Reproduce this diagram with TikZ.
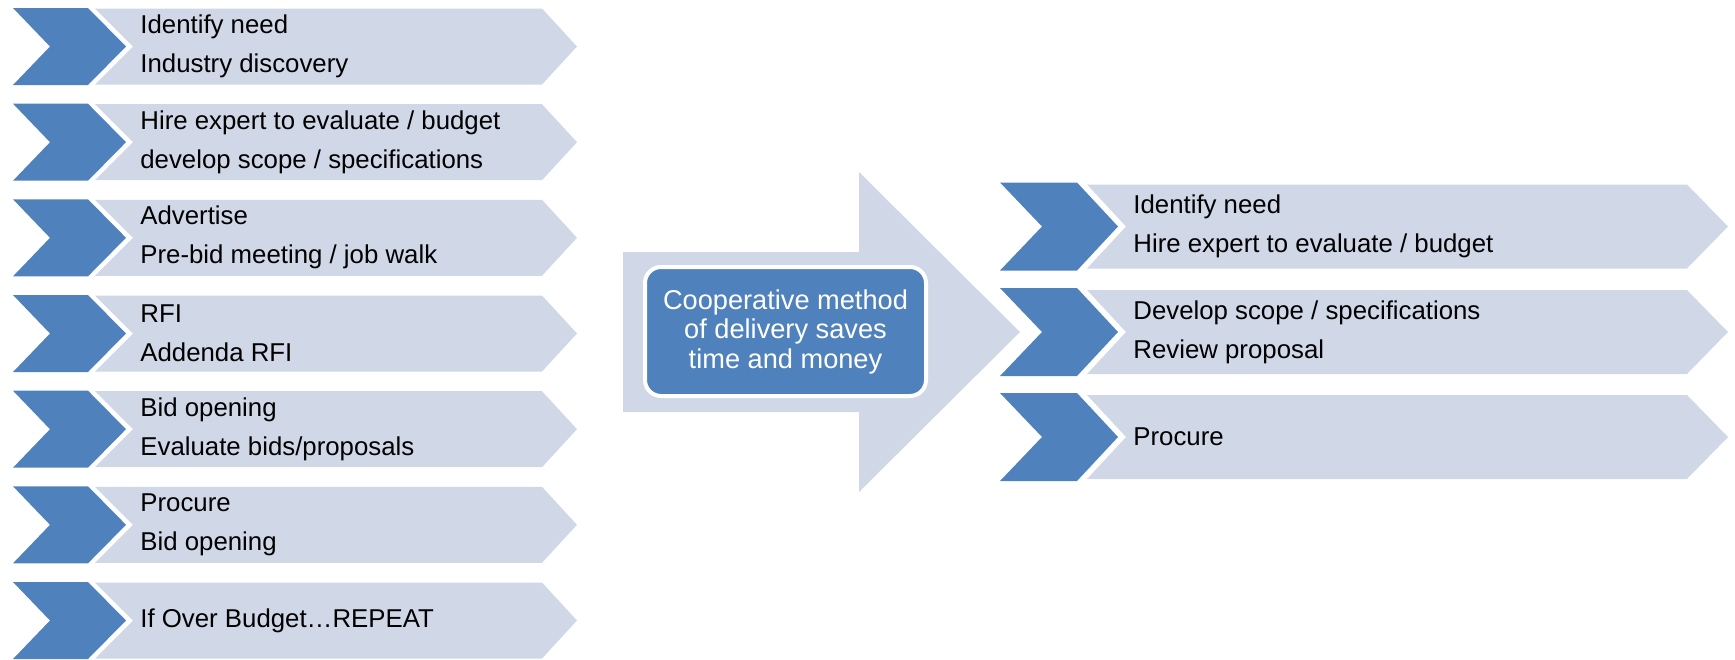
\documentclass[tikz,border=0pt]{standalone}
\usepackage{fontspec}
\setmainfont{Liberation Sans}

\definecolor{stepblue}{HTML}{4F81BD}
\definecolor{steplight}{HTML}{D0D8E8}

\tikzstyle{chevron}=[fill=stepblue]
\tikzstyle{bar}=[fill=steplight]
\tikzstyle{steptext}=[anchor=west, align=left, inner sep=0pt, font=\fontsize{12.9}{19.5}\selectfont]
\tikzstyle{coopbox}=[rectangle, rounded corners=8pt, fill=stepblue, draw=white, line width=2pt, text=white, align=center, minimum width=140.5pt, minimum height=64.5pt, font=\fontsize{13.6}{14.75}\selectfont]

\begin{document}
\begin{tikzpicture}[x=0.5pt, y=-0.5pt]
	\useasboundingbox (0,0) rectangle (1735,659);

	% traditional steps (left)
	\foreach \c in {46.5,142.2,237.8,333.5,429.2,524.8,620.5} {
		\fill[bar] (95,\c-38) -- (542,\c-38) -- (577,\c) -- (542,\c+38) -- (95,\c+38) -- (133,\c) -- cycle;
		\fill[chevron] (13,\c-38.5) -- (88,\c-38.5) -- (126,\c) -- (88,\c+38.5) -- (13,\c+38.5) -- (50,\c) -- cycle;
	}
	\node [steptext] (old1) at (140, 46.5)  {Identify need\\Industry discovery};
	\node [steptext] (old2) at (140,142.2)  {Hire expert to evaluate / budget\\develop scope / specifications};
	\node [steptext] (old3) at (140,237.8)  {Advertise\\Pre-bid meeting / job walk};
	\node [steptext] (old4) at (140,333.5)  {RFI\\Addenda RFI};
	\node [steptext] (old5) at (140,429.2)  {Bid opening\\Evaluate bids/proposals};
	\node [steptext] (old6) at (140,524.8)  {Procure\\Bid opening};
	\node [steptext] (old7) at (140,620.5)  {If Over Budget…REPEAT};

	% big arrow
	\fill[bar] (623,252) -- (859,252) -- (859,172) -- (1020,332) -- (859,492) -- (859,412) -- (623,412) -- cycle;
	\node [coopbox] (coop) at (785.5,331.5) {Cooperative method\\of delivery saves\\time and money};

	% cooperative steps (right)
	\foreach \c in {226.5,332,437} {
		\fill[bar] (1087,\c-42) -- (1687,\c-42) -- (1728,\c) -- (1687,\c+42) -- (1087,\c+42) -- (1126,\c) -- cycle;
		\fill[chevron] (1000,\c-44) -- (1077,\c-44) -- (1118,\c) -- (1077,\c+44) -- (1000,\c+44) -- (1042,\c) -- cycle;
	}
	\node [steptext] (new1) at (1133,226.5) {Identify need\\Hire expert to evaluate / budget};
	\node [steptext] (new2) at (1133,332)   {Develop scope / specifications\\Review proposal};
	\node [steptext] (new3) at (1133,437)   {Procure};
\end{tikzpicture}
\end{document}
